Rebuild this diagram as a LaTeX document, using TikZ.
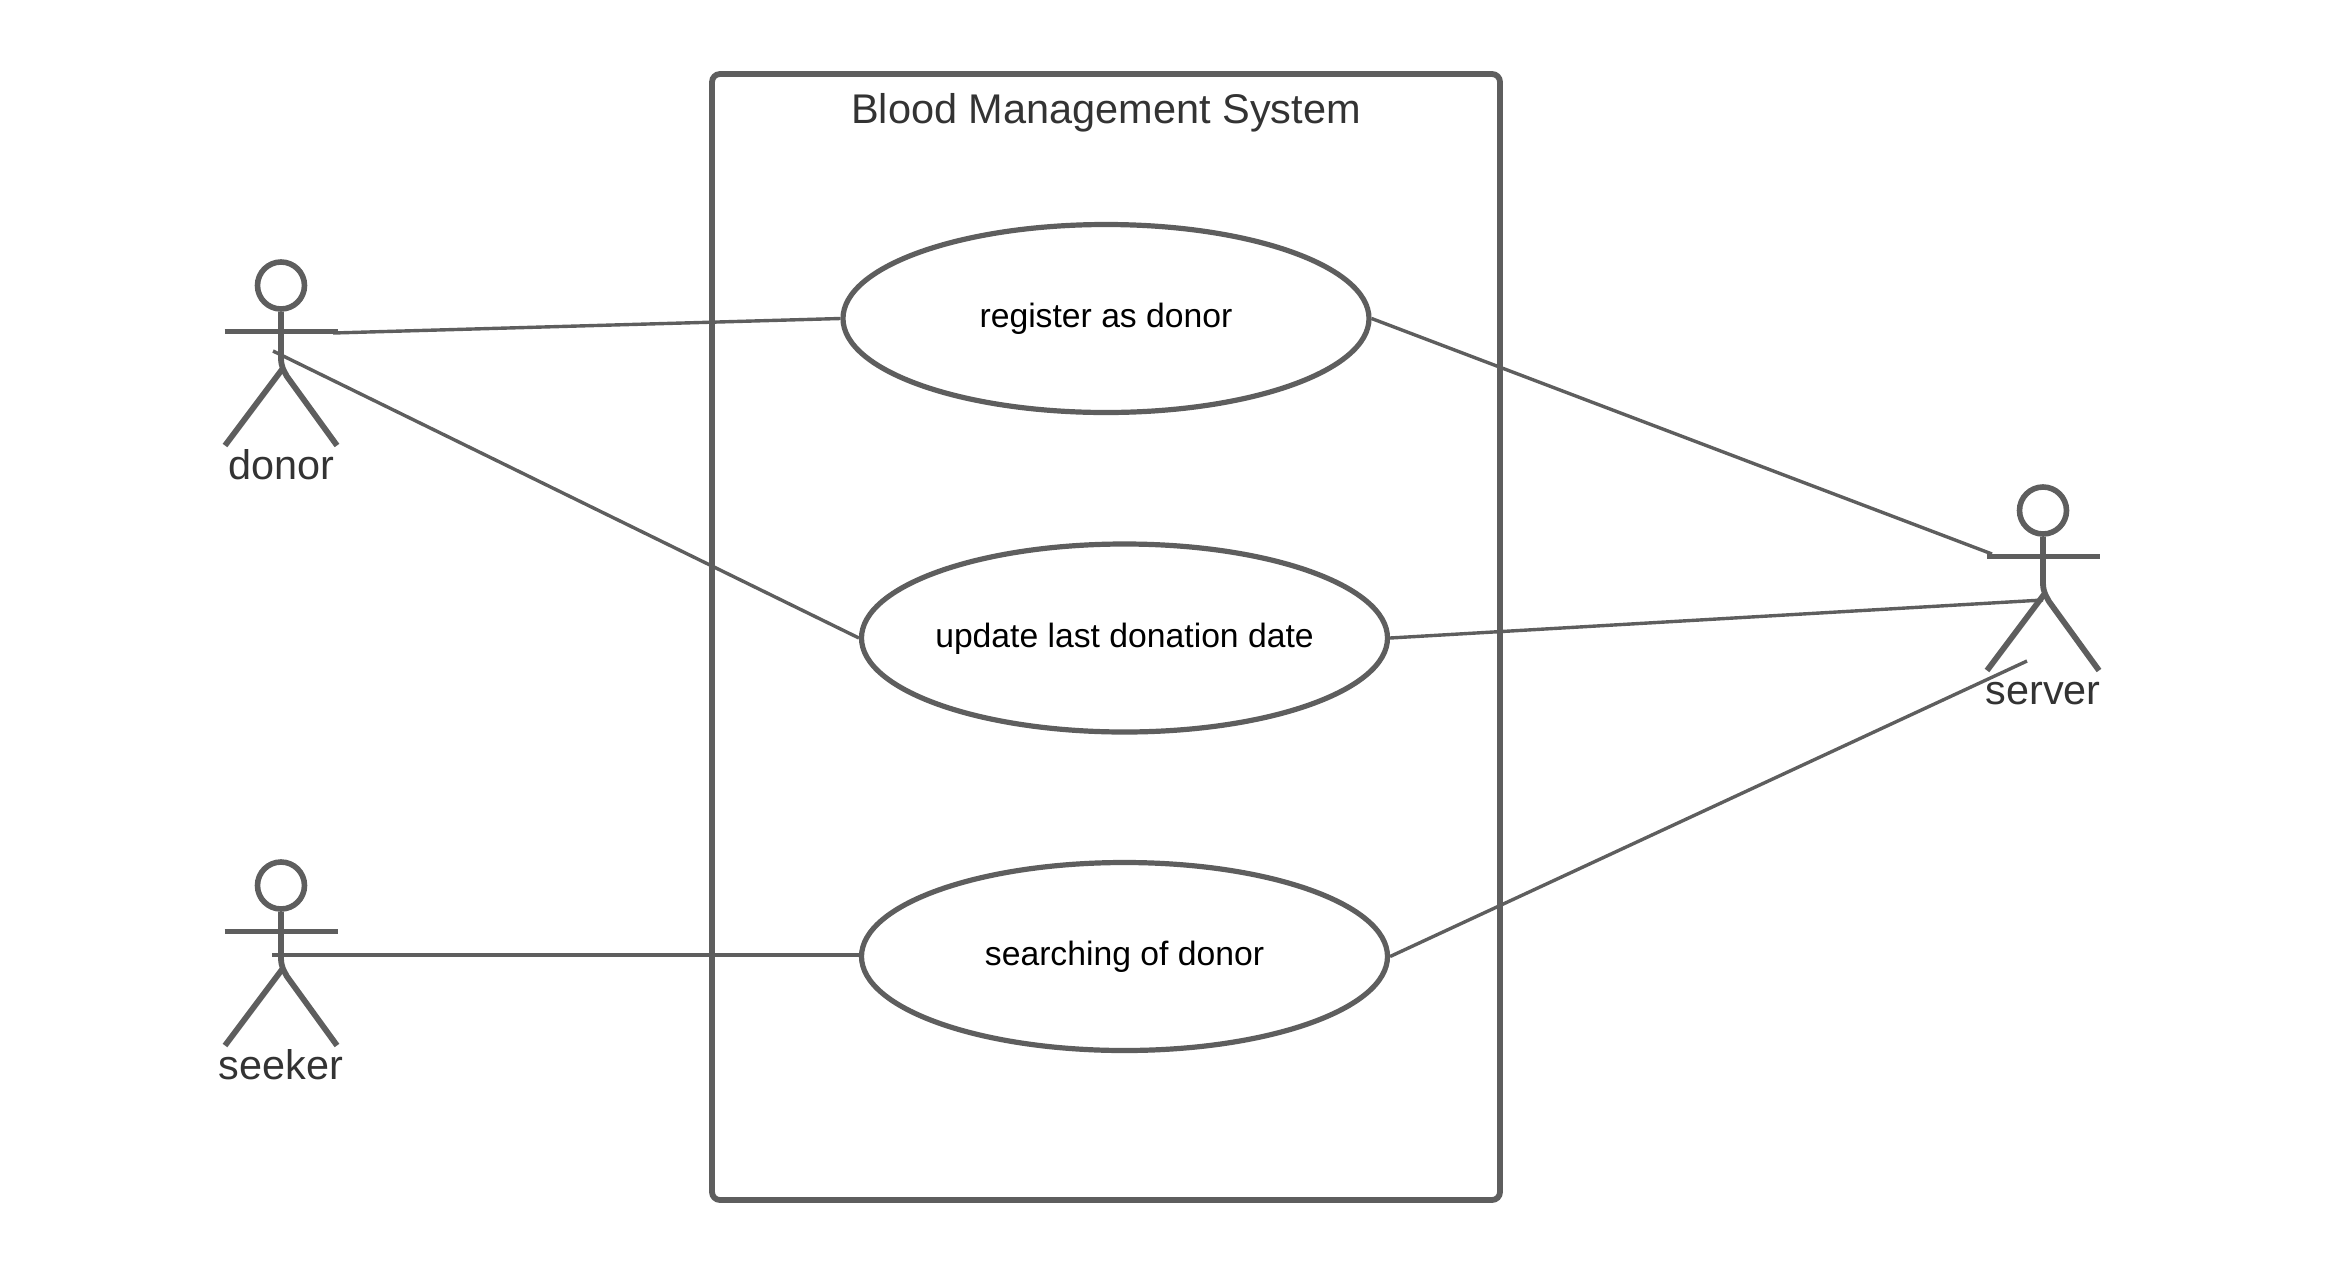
\documentclass[tikz,border=0pt]{standalone}
\usepackage{fontspec}
\setmainfont{Liberation Sans}
\usetikzlibrary{shapes.geometric}
\definecolor{linegray}{HTML}{5E5E5E}
\definecolor{labelgray}{HTML}{333333}
\tikzset{
  x=0.5pt,y=-0.5pt,
  frameline/.style={draw=linegray,line width=2.9pt,rounded corners=4pt},
  usecase/.style={ellipse,draw=linegray,line width=2.6pt,fill=white,inner sep=0pt,
    minimum width=263pt,minimum height=94pt,text=black,font=\fontsize{16.85}{20}\selectfont},
  link/.style={draw=linegray,line width=1.7pt},
  limb/.style={draw=linegray,line width=2.9pt},
  actorname/.style={anchor=base,text=labelgray,inner sep=0pt,font=\fontsize{20.7}{24}\selectfont},
  titletext/.style={anchor=base,text=labelgray,inner sep=0pt,font=\fontsize{20.75}{25}\selectfont},
  headshape/.style={circle,draw=linegray,line width=2.8pt,minimum size=23.5pt,inner sep=0pt},
  pics/actor/.style={code={
    \node[headshape] (-head) at (0,0) {};
    \draw[limb] (-56.5,46) -- (56.5,46);
    \draw[limb] (-head.south) -- (0,72) .. controls (0,82) and (3,85) .. (6,91) -- (56,160);
    \draw[limb] (1,84) -- (-56,160);
    \node[actorname] (-name) at (0,194) {#1};
  }}
}
\newcommand{\casetext}[1]{\makebox[0pt][c]{\rule[-3.5pt]{0pt}{16.4pt}#1}}
\begin{document}
\begin{tikzpicture}
\useasboundingbox (0,0) rectangle (2325,1275);
\draw[frameline] (712,74) rectangle (1500,1200);
\node[titletext] (title) at (1106,123) {Blood Management System};
\pic (donor) at (281,285.5) {actor={donor}};
\pic (seeker) at (281,885.5) {actor={seeker}};
\pic (server) at (2043,510.5) {actor={server}};
\coordinate (d1) at (333,333);
\coordinate (d2) at (273,351);
\coordinate (k1) at (272,955);
\coordinate (s1) at (1992,554);
\coordinate (s2) at (2043,600);
\coordinate (s3) at (2027,661);
\node[usecase] (reg) at (1106,318.5) {\casetext{register as donor}};
\node[usecase] (upd) at (1124.5,638) {\casetext{update last donation date}};
\node[usecase] (sea) at (1124.5,956.5) {\casetext{searching of donor}};
\draw[link] (d1) -- (reg.west);
\draw[link] (d2) -- (upd.west);
\draw[link] (k1) -- (k1 -| sea.west);
\draw[link] (reg.east) -- (s1);
\draw[link] (upd.east) -- (s2);
\draw[link] (sea.east) -- (s3);
\end{tikzpicture}
\end{document}
